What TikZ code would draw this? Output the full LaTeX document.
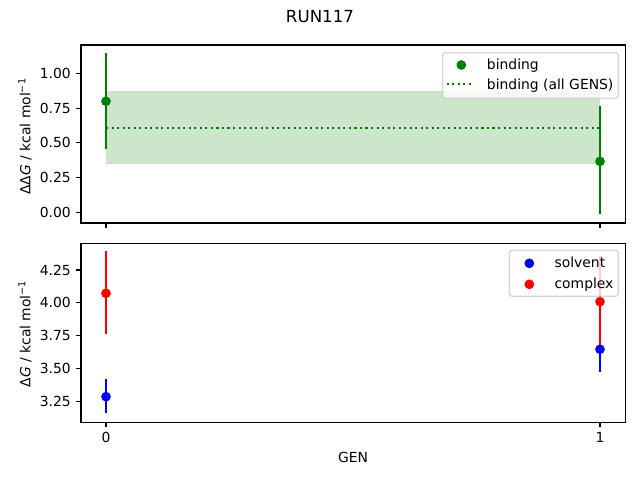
\documentclass[tikz,border=0pt]{standalone}
\usepackage{fontspec}
\setmainfont{DejaVu Sans}
\usepackage{tikz}
\definecolor{mplgreen}{HTML}{008000}
\definecolor{mplblue}{HTML}{0000FF}
\definecolor{mplred}{HTML}{FF0000}

\begin{document}
\begin{tikzpicture}[
  x=0.72pt, y=-0.72pt,
  every node/.style={font=\fontsize{10}{12}\selectfont, inner sep=0pt},
  axesframe/.style={line width=0.8pt},
  axtick/.style={line width=0.8pt},
  errbar/.style={line width=1.5pt},
  dotline/.style={mplgreen, line width=1.5pt, dash pattern=on 1.5pt off 2.475pt},
  legendbox/.style={draw=black!20, draw opacity=0.8, fill=white, fill opacity=0.8, rounded corners=2pt, line width=1pt}
]
\useasboundingbox (0,0) rectangle (640,480);
\node (title) [font=\fontsize{12}{14}\selectfont] at (320,17) {RUN117};

% top panel
\begin{scope}[shift={(106,212.3)}, x=355.68pt, y=99.94pt]
  \fill[mplgreen, opacity=0.2] (0,0.346) rectangle (1,0.874);
  \draw[dotline] (0,0.607) -- (1,0.607);
  \draw[errbar, mplgreen] (0,0.458) -- (0,1.146);
  \draw[errbar, mplgreen] (1,-0.014) -- (1,0.766);
  \fill[mplgreen] (0,0.80) circle[radius=3.5pt] (1,0.367) circle[radius=3.5pt];
  \foreach \v in {0.00,0.25,0.50,0.75,1.00}
    \draw[axtick] (-0.0506,\v) -- ++(-3.5pt,0) node[left=3.5pt] {\v};
  \foreach \g in {0,1}
    \draw[axtick] (\g,-0.077) -- ++(0,-3.5pt);
\end{scope}
\draw[axesframe] (81,45) rectangle (625.5,223);

% bottom panel
\begin{scope}[shift={(106,829.7)}, x=355.68pt, y=94.82pt]
  \draw[errbar, mplblue] (0,3.162) -- (0,3.422);
  \draw[errbar, mplblue] (1,3.478) -- (1,3.818);
  \draw[errbar, mplred] (0,3.766) -- (0,4.397);
  \draw[errbar, mplred] (1,3.66) -- (1,4.36);
  \fill[mplblue] (0,3.288) circle[radius=3.5pt] (1,3.648) circle[radius=3.5pt];
  \fill[mplred] (0,4.073) circle[radius=3.5pt] (1,4.01) circle[radius=3.5pt];
  \foreach \v in {3.25,3.50,3.75,4.00,4.25}
    \draw[axtick] (-0.0506,\v) -- ++(-3.5pt,0) node[left=3.5pt] {\v};
  \foreach \g in {0,1}
    \draw[axtick] (\g,3.094) -- ++(0,-3.5pt) node[below=3.5pt] {\g};
\end{scope}
\draw[axesframe] (81,243.3) rectangle (625.5,422.3);

% legends
\draw[legendbox] (442.7,52.7) rectangle (618.3,98.3);
\fill[mplgreen] (461.3,65) circle[radius=3.5pt];
\draw[dotline] (446.7,84.3) -- (474,84.3);
\node (bindlbl) [anchor=base west] at (486.7,69.3) {binding};
\node (alllbl) [anchor=base west] at (486.7,89) {binding (all GENS)};

\draw[legendbox] (509.3,250.3) rectangle (618.3,296.3);
\fill[mplblue] (529.3,263.3) circle[radius=3.5pt];
\fill[mplred] (529.3,284.3) circle[radius=3.5pt];
\node (solvlbl) [anchor=base west] at (554.3,267.3) {solvent};
\node (cplxlbl) [anchor=base west] at (554.3,288.3) {complex};

% axis labels
\node (ddglbl) [rotate=90, anchor=base] at (30.5,136.3) {ΔΔ\textit{G} / kcal mol\textsuperscript{−1}};
\node (dglbl) [rotate=90, anchor=base] at (30.5,333.7) {Δ\textit{G} / kcal mol\textsuperscript{−1}};
\node (genlbl) at (353,457) {GEN};
\end{tikzpicture}
\end{document}
